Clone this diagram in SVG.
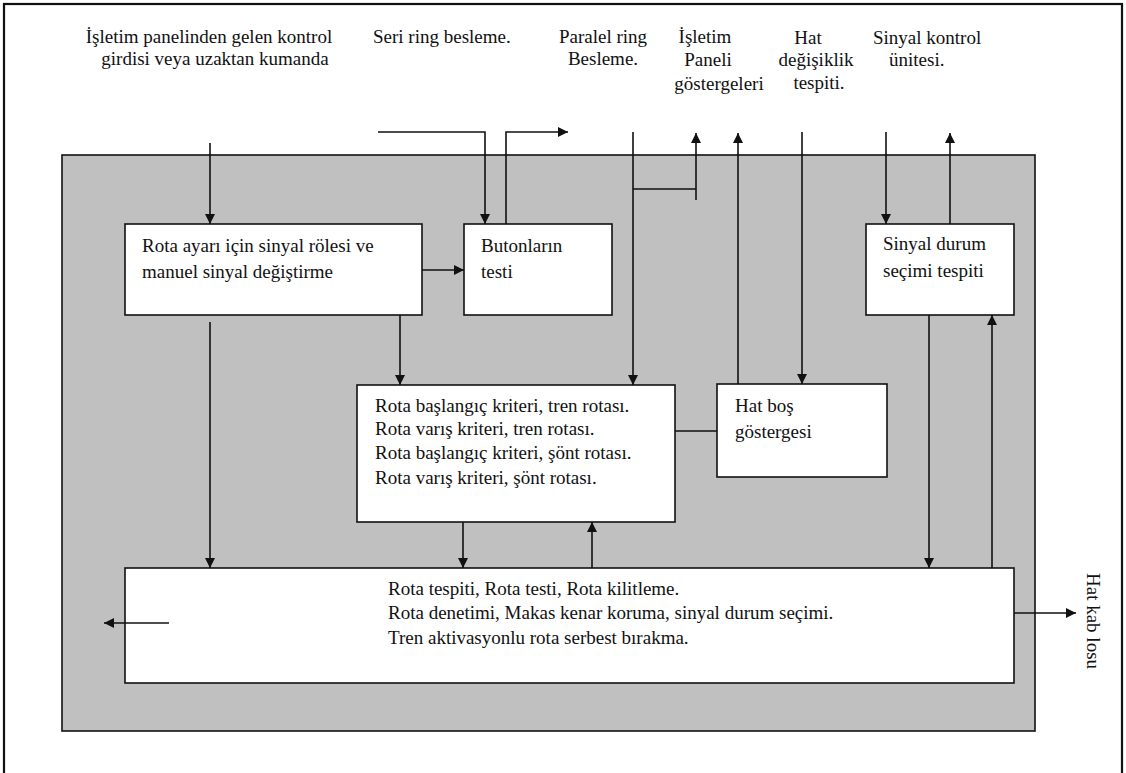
<svg xmlns="http://www.w3.org/2000/svg" width="1126" height="773" viewBox="0 0 1126 773">
  <style>
    .lbl { font-family: "Liberation Serif", "Times New Roman", serif; font-size: 19px; fill: #111; }
    .box { fill: #fff; stroke: #111; stroke-width: 1.6; }
    .wire { fill: none; stroke: #111; stroke-width: 1.6; }
    .arr { marker-end: url(#head); }
  </style>
  <defs>
    <marker id="head" viewBox="0 0 10 10" refX="10" refY="5" markerWidth="10" markerHeight="10" markerUnits="userSpaceOnUse" orient="auto">
      <path d="M0,0 L10,5 L0,10 Z" fill="#111"/>
    </marker>
  </defs>

  <rect width="1126" height="773" fill="#fff"/>
  <!-- page frame -->
  <rect x="4" y="4" width="1118" height="780" fill="none" stroke="#111" stroke-width="2.2"/>
  <!-- interlocking system enclosure -->
  <rect id="enclosure" x="62" y="155" width="973" height="576" fill="#c0c0c0" stroke="#111" stroke-width="1.6"/>

  <!-- external inputs / outputs -->
  <g id="in-panel">
    <text class="lbl" x="209" y="43" text-anchor="middle">İşletim panelinden gelen kontrol</text>
    <text class="lbl" x="215" y="65" text-anchor="middle">girdisi veya uzaktan kumanda</text>
  </g>
  <g id="in-serial">
    <text class="lbl" x="373" y="43">Seri ring besleme.</text>
  </g>
  <g id="in-parallel">
    <text class="lbl" x="603" y="43" text-anchor="middle">Paralel ring</text>
    <text class="lbl" x="603" y="65" text-anchor="middle">Besleme.</text>
  </g>
  <g id="out-indicators">
    <text class="lbl" x="705" y="43" text-anchor="middle">İşletim</text>
    <text class="lbl" x="708" y="66" text-anchor="middle">Paneli</text>
    <text class="lbl" x="719" y="90" text-anchor="middle">göstergeleri</text>
  </g>
  <g id="in-line-change">
    <text class="lbl" x="808" y="44" text-anchor="middle">Hat</text>
    <text class="lbl" x="816" y="66" text-anchor="middle">değişiklik</text>
    <text class="lbl" x="819" y="89" text-anchor="middle">tespiti.</text>
  </g>
  <g id="io-signal-control">
    <text class="lbl" x="873" y="44">Sinyal kontrol</text>
    <text class="lbl" x="889" y="66">ünitesi.</text>
  </g>
  <g id="out-cable">
    <text class="lbl" transform="translate(1087,573) rotate(90)">Hat kab losu</text>
  </g>

  <!-- functional blocks -->
  <g id="signal-relay">
    <rect class="box" x="125" y="224" width="297" height="91"/>
    <text class="lbl" x="142" y="252">Rota ayarı için sinyal rölesi ve</text>
    <text class="lbl" x="142" y="278">manuel sinyal değiştirme</text>
  </g>
  <g id="button-test">
    <rect class="box" x="464" y="224" width="148" height="91"/>
    <text class="lbl" x="481" y="252">Butonların</text>
    <text class="lbl" x="481" y="278">testi</text>
  </g>
  <g id="signal-state">
    <rect class="box" x="866" y="224" width="148" height="91"/>
    <text class="lbl" x="883" y="250">Sinyal durum</text>
    <text class="lbl" x="883" y="277">seçimi tespiti</text>
  </g>
  <g id="route-criteria">
    <rect class="box" x="357" y="385" width="318" height="137"/>
    <text class="lbl" x="375" y="412">Rota başlangıç kriteri, tren rotası.</text>
    <text class="lbl" x="375" y="435">Rota varış kriteri, tren rotası.</text>
    <text class="lbl" x="375" y="459">Rota başlangıç kriteri, şönt rotası.</text>
    <text class="lbl" x="375" y="484">Rota varış kriteri, şönt rotası.</text>
  </g>
  <g id="track-clear">
    <rect class="box" x="717" y="384" width="170" height="93"/>
    <text class="lbl" x="735" y="412">Hat boş</text>
    <text class="lbl" x="735" y="438">göstergesi</text>
  </g>
  <g id="route-control">
    <rect class="box" x="125" y="568" width="889" height="115"/>
    <text class="lbl" x="388" y="595">Rota tespiti, Rota testi, Rota kilitleme.</text>
    <text class="lbl" x="388" y="619">Rota denetimi, Makas kenar koruma, sinyal durum seçimi.</text>
    <text class="lbl" x="388" y="644">Tren aktivasyonlu rota serbest bırakma.</text>
  </g>

  <!-- connectors -->
  <g id="connectors">
    <path class="wire arr" d="M210,143 V224"/>
    <path class="wire arr" d="M378,132 H485 V224"/>
    <path class="wire arr" d="M506,224 V132 H568"/>
    <path class="wire arr" d="M422,270 H464"/>
    <path class="wire arr" d="M633,132 V385"/>
    <path class="wire" d="M633,189 H696"/>
    <path class="wire arr" d="M696,200 V133"/>
    <path class="wire arr" d="M738,384 V133"/>
    <path class="wire arr" d="M802,132 V384"/>
    <path class="wire arr" d="M886,132 V224"/>
    <path class="wire arr" d="M950,224 V133"/>
    <path class="wire arr" d="M400,315 V385"/>
    <path class="wire" d="M675,431 H717"/>
    <path class="wire arr" d="M210,322 V568"/>
    <path class="wire arr" d="M463,522 V568"/>
    <path class="wire arr" d="M592,568 V522"/>
    <path class="wire arr" d="M929,315 V568"/>
    <path class="wire arr" d="M992,568 V315"/>
    <path class="wire arr" d="M169,623 H104"/>
    <path class="wire arr" d="M1014,613 H1076"/>
  </g>
</svg>
